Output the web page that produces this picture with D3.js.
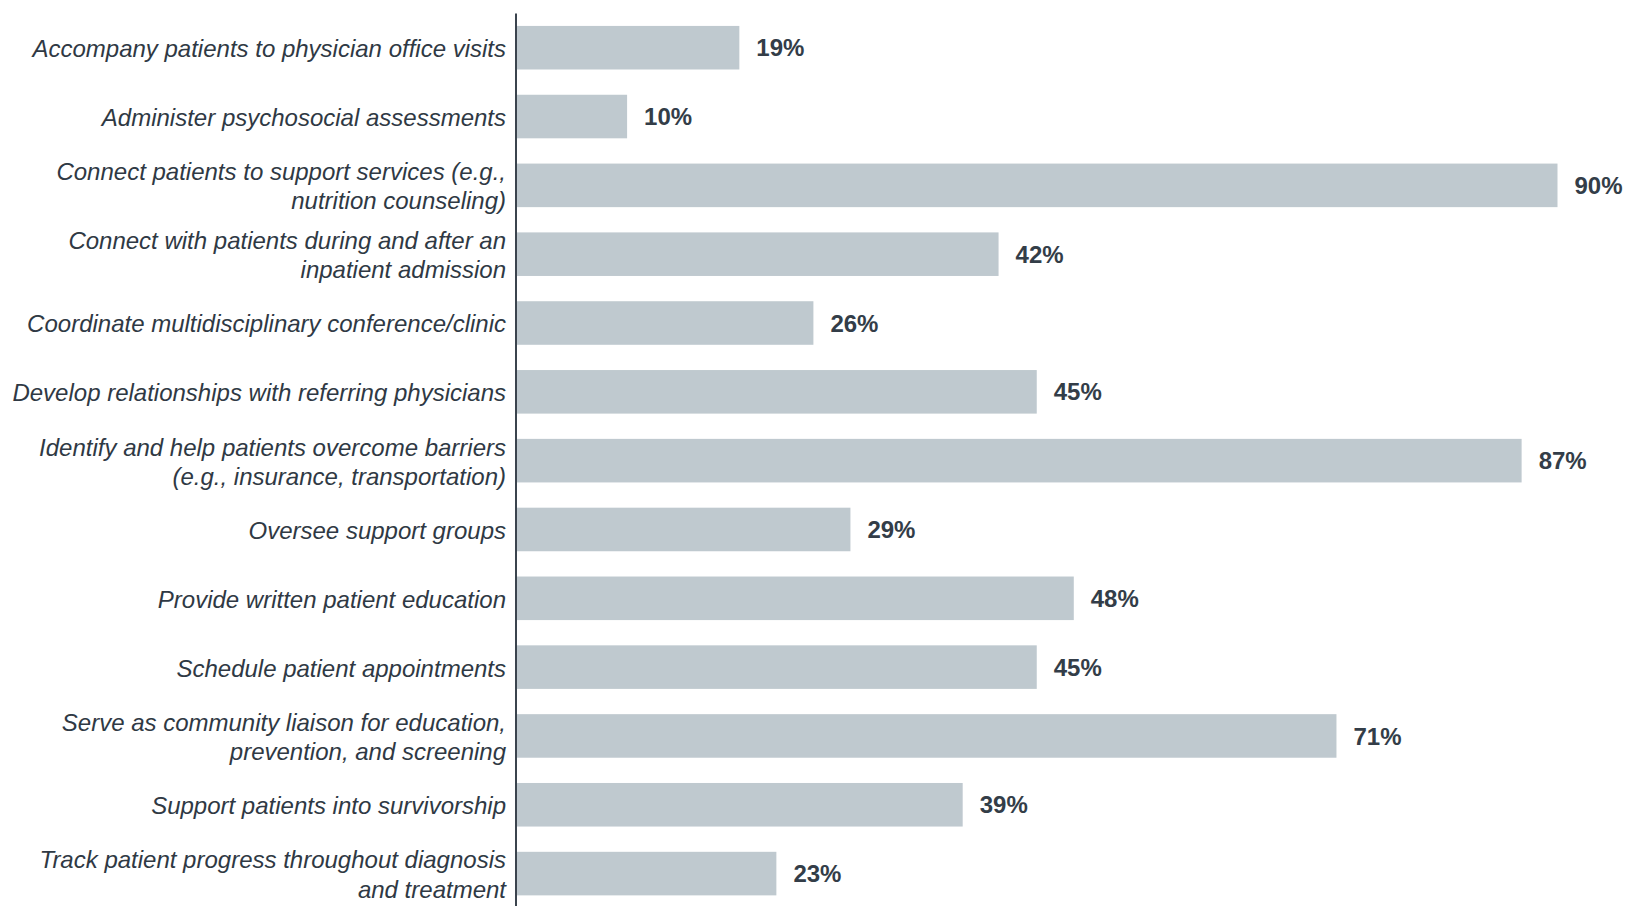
<!DOCTYPE html>
<html>
<head>
<meta charset="utf-8">
<script src="https://cdn.jsdelivr.net/npm/d3@7"></script>
<style>
  body { margin: 0; background: #fff; }
</style>
</head>
<body>
<script>
// categories (multi-line labels split by "|")
var categories = [
  "Accompany patients to physician office visits",
  "Administer psychosocial assessments",
  "Connect patients to support services (e.g.,|nutrition counseling)",
  "Connect with patients during and after an|inpatient admission",
  "Coordinate multidisciplinary conference/clinic",
  "Develop relationships with referring physicians",
  "Identify and help patients overcome barriers|(e.g., insurance, transportation)",
  "Oversee support groups",
  "Provide written patient education",
  "Schedule patient appointments",
  "Serve as community liaison for education,|prevention, and screening",
  "Support patients into survivorship",
  "Track patient progress throughout diagnosis|and treatment"
]
// labels show rounded percentages
var values = [19.3, 9.6, 90, 41.7, 25.7, 45, 86.9, 28.9, 48.2, 45, 70.9, 38.6, 22.5]

var width = 1627, height = 906
var axisX = 516

var svg = d3.select("body")
  .append("svg")
    .attr("width", width)
    .attr("height", height)

var x = d3.scaleLinear().domain([0, 90]).range([axisX, 1557.5])
var y = d3.scaleBand().domain(categories).range([13.3, 908]).paddingInner(0.367).paddingOuter(0.1835)

// bars
svg.selectAll("rect.bar")
  .data(values)
  .enter().append("rect")
    .attr("class", "bar")
    .attr("x", x(0))
    .attr("y", (d, i) => y(categories[i]))
    .attr("width", d => x(d) - x(0))
    .attr("height", y.bandwidth())
    .style("fill", "#bfc9cf")

// value labels
svg.selectAll("text.val")
  .data(values)
  .enter().append("text")
    .attr("class", "val")
    .attr("x", d => x(d) + 17)
    .attr("y", (d, i) => y(categories[i]) + y.bandwidth() / 2)
    .attr("dy", "0.36em")
    .text(d => Math.round(d) + "%")
    .style("font-family", "Liberation Sans, Arial, sans-serif")
    .style("font-weight", "bold")
    .style("font-size", "24px")
    .style("fill", "#333d48")

// category labels
var lab = svg.selectAll("text.cat")
  .data(categories)
  .enter().append("text")
    .attr("class", "cat")
    .attr("text-anchor", "end")
    .attr("x", axisX - 10)
    .attr("y", d => y(d) + y.bandwidth() / 2 + 1)
    .style("font-family", "Liberation Sans, Arial, sans-serif")
    .style("font-style", "italic")
    .style("font-size", "24px")
    .style("fill", "#2f3944")

lab.each(function(d) {
  var lines = d.split("|")
  var t = d3.select(this)
  lines.forEach(function(l, j) {
    t.append("tspan")
      .attr("x", axisX - 10)
      .attr("dy", j == 0 ? (0.35 - (lines.length - 1) * 0.605) + "em" : "1.21em")
      .text(l)
  })
})

// axis line
svg.append("line")
  .attr("x1", axisX).attr("x2", axisX)
  .attr("y1", 13.5).attr("y2", height)
  .style("stroke", "#3b444e")
  .style("stroke-width", 2)
</script>
</body>
</html>
